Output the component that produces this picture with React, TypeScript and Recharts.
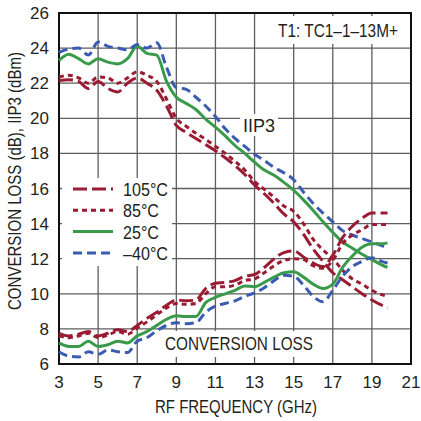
import React from 'react';
import { LineChart, Line, XAxis, YAxis, CartesianGrid, Legend } from 'recharts';

// frequency points (GHz)
const FREQ = [3, 3.5, 4, 4.5, 5, 5.5, 6, 6.5, 7, 7.5, 8, 8.5, 9, 9.5, 10, 10.5, 11, 11.5, 12, 12.5, 13, 13.5, 14, 14.5, 15, 15.5, 16, 16.5, 17, 17.5, 18, 18.5, 19, 19.5, 19.8];

// IIP3 (dBm) per temperature
const IIP3_105 = [22.15, 22.2, 22.1, 21.7, 22.1, 21.7, 21.5, 22.0, 22.3, 22.0, 21.6, 20.7, 19.6, 19.2, 18.85, 18.5, 18.15, 17.75, 17.3, 16.8, 16.2, 15.7, 15.15, 14.55, 14.1, 13.4, 12.55, 11.85, 11.2, 10.8, 10.4, 10.0, 9.65, 9.35, 9.2];
const IIP3_85 = [22.35, 22.45, 22.3, 22.0, 22.35, 22.3, 22.0, 22.3, 22.65, 22.45, 22.1, 21.1, 20.0, 19.55, 19.15, 18.8, 18.4, 18.0, 17.55, 17.05, 16.4, 15.95, 15.5, 15.0, 14.7, 14.0, 13.1, 12.5, 12.0, 11.35, 10.85, 10.55, 10.2, 9.95, 9.85];
const IIP3_25 = [23.3, 23.65, 23.4, 23.1, 23.4, 23.2, 23.1, 23.4, 24.1, 23.7, 23.6, 22.1, 21.2, 20.85, 20.5, 19.95, 19.5, 19.0, 18.45, 18.0, 17.5, 17.05, 16.75, 16.35, 15.9, 15.35, 14.75, 14.1, 13.5, 12.95, 12.6, 12.25, 11.95, 11.65, 11.5];
const IIP3_M40 = [23.75, 23.95, 24.0, 23.6, 24.35, 24.1, 24.0, 23.9, 24.2, 24.0, 24.3, 22.9, 21.75, 21.65, 21.2, 20.7, 20.1, 19.4, 18.85, 18.4, 17.95, 17.6, 17.2, 16.9, 16.5, 15.8, 15.15, 14.6, 14.1, 13.6, 13.35, 13.15, 12.95, 12.75, 12.65];

// conversion loss (dB) per temperature
const CL_105 = [7.75, 7.6, 7.7, 7.85, 7.6, 7.75, 7.95, 7.85, 8.2, 8.6, 8.95, 9.35, 9.65, 9.6, 9.65, 10.3, 10.6, 10.65, 10.75, 11.0, 11.1, 11.5, 12.0, 12.35, 12.45, 12.1, 11.75, 11.55, 12.2, 13.2, 13.85, 14.3, 14.6, 14.6, 14.6];
const CL_85 = [7.6, 7.5, 7.6, 7.75, 7.5, 7.65, 7.85, 7.7, 8.05, 8.4, 8.8, 9.2, 9.45, 9.4, 9.45, 10.0, 10.4, 10.4, 10.5, 10.75, 10.85, 11.2, 11.6, 11.9, 12.0, 11.95, 11.6, 11.45, 11.9, 12.85, 13.35, 13.65, 13.95, 13.95, 13.95];
const CL_25 = [7.2, 7.0, 7.0, 7.3, 7.0, 7.1, 7.3, 7.2, 7.6, 7.85, 8.2, 8.55, 8.75, 8.7, 8.7, 9.5, 9.8, 10.0, 10.2, 10.45, 10.4, 10.65, 10.95, 11.2, 11.25, 10.95, 10.55, 10.3, 10.55, 11.5, 12.15, 12.65, 12.85, 12.85, 12.9];
const CL_M40 = [6.7, 6.45, 6.4, 6.7, 6.55, 6.8, 6.7, 6.65, 7.3, 7.5, 7.9, 8.2, 8.35, 8.3, 8.35, 8.95, 9.3, 9.45, 9.6, 9.85, 10.05, 10.35, 10.75, 11.05, 11.0, 10.5, 9.85, 9.55, 10.2, 11.0, 11.55, 11.85, 12.05, 11.85, 11.75];

const X_TICKS = [3, 5, 7, 9, 11, 13, 15, 17, 19, 21];
const Y_TICKS = [6, 8, 10, 12, 14, 16, 18, 20, 22, 24, 26];

const TEMPS = ['105°C', '85°C', '25°C', '–40°C'];
const KEYS = ['t105', 't85', 't25', 'tm40'];
const COLORS = ['#9a1c33', '#9a1c33', '#3a9a4b', '#3a5bb2'];
const DASHES = ['14 5', '5 4', undefined, '9 5'];

const IIP3 = [IIP3_105, IIP3_85, IIP3_25, IIP3_M40];
const CL = [CL_105, CL_85, CL_25, CL_M40];

const data = FREQ.map((f, i) => {
  const row: Record<string, number> = { f };
  KEYS.forEach((k, j) => {
    row['iip3_' + k] = IIP3[j][i];
    row['cl_' + k] = CL[j][i];
  });
  return row;
});

const SANS = "'Liberation Sans', Arial, sans-serif";
const INK = '#231f20';
// squeeze text to the condensed widths of the original
const squeeze = { fontSize: 18, fontFamily: SANS, fill: INK, lengthAdjust: 'spacingAndGlyphs' as const };

const LEGEND_W = [45, 36, 36, 45];

const LegendBox = () => (
  <svg width={110} height={88}>
    <rect x={0} y={0} width={110} height={88} fill="#fff" />
    {TEMPS.map((t, i) => {
      const y = 11 + i * 21.3;
      return (
        <g key={t}>
          <line x1={11} x2={51} y1={y} y2={y} stroke={COLORS[i]} strokeWidth={3} strokeDasharray={DASHES[i]} />
          <text x={61} y={y + 7} textLength={LEGEND_W[i]} {...squeeze}>{t}</text>
        </g>
      );
    })}
  </svg>
);

export default function App() {
  return (
    <div style={{ position: 'absolute', left: 0, top: 0, width: 421, height: 421, background: '#fff' }}>
      <LineChart width={421} height={421} data={data} margin={{ top: 13, right: 10, left: 0, bottom: 0 }}>
        <CartesianGrid stroke="#5e5e5e" strokeWidth={1.3} />
        <XAxis
          dataKey="f"
          type="number"
          domain={[3, 21]}
          ticks={X_TICKS}
          height={57}
          tickLine={false}
          axisLine={false}
          tickMargin={6}
          tick={{ fontSize: 17, fill: INK, fontFamily: SANS }}
        />
        <YAxis
          type="number"
          domain={[6, 26]}
          ticks={Y_TICKS}
          width={59}
          tickLine={false}
          axisLine={false}
          tickMargin={4}
          tick={{ fontSize: 17, fill: INK, fontFamily: SANS }}
        />
        <rect x={269} y={16} width={138} height={28} fill="#fff" />
        <rect x={240} y={114} width={38} height={22} fill="#fff" />
        <rect x={160} y={331} width={158} height={26} fill="#fff" />
        {KEYS.map((k, i) => (
          <Line
            key={'iip3' + k}
            dataKey={'iip3_' + k}
            name={TEMPS[i]}
            type="monotone"
            stroke={COLORS[i]}
            strokeWidth={3}
            strokeDasharray={DASHES[i]}
            dot={false}
            isAnimationActive={false}
          />
        ))}
        {KEYS.map((k, i) => (
          <Line
            key={'cl' + k}
            dataKey={'cl_' + k}
            name={TEMPS[i] + ' CL'}
            type="monotone"
            stroke={COLORS[i]}
            strokeWidth={3}
            strokeDasharray={DASHES[i]}
            dot={false}
            legendType="none"
            isAnimationActive={false}
          />
        ))}
        <rect x={59} y={13} width={352} height={351} fill="none" stroke="#111" strokeWidth={2} />
        <text x={278} y={37} textLength={120} {...squeeze}>T1: TC1–1–13M+</text>
        <text x={243} y={132} textLength={32} {...squeeze}>IIP3</text>
        <text x={165} y={350} textLength={148} {...squeeze}>CONVERSION LOSS</text>
        <text x={155} y={413} textLength={162} {...squeeze}>RF FREQUENCY (GHz)</text>
        <text transform="translate(21,310) rotate(-90)" textLength={258} {...squeeze}>
          CONVERSION LOSS (dB), IIP3 (dBm)
        </text>
        <Legend
          layout="vertical"
          align="center"
          verticalAlign="middle"
          wrapperStyle={{ left: 62, top: 178, width: 110, height: 88 }}
          content={() => <LegendBox />}
        />
      </LineChart>
    </div>
  );
}
